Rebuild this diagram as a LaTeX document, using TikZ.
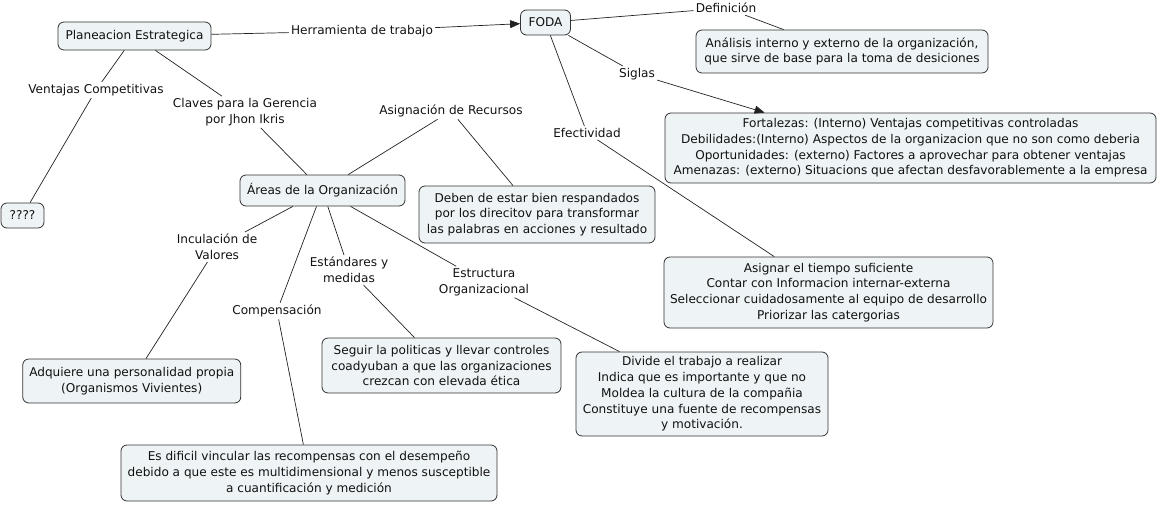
\documentclass[tikz,border=0pt]{standalone}
\usepackage{fontspec}
\setmainfont{DejaVu Sans}
\usetikzlibrary{arrows.meta,calc}
\definecolor{boxfill}{HTML}{EEF3F5}
\definecolor{boxline}{HTML}{333333}
\definecolor{connclr}{HTML}{222222}
\definecolor{txt}{HTML}{111111}
\begin{document}
\begin{tikzpicture}[x=1pt,y=-1pt,
  font=\fontsize{12.1}{15.7}\selectfont,
  every node/.style={text=txt},
  cbox/.style={draw=boxline, fill=boxfill, rounded corners=6pt, align=center, inner sep=0pt, line width=0.8pt},
  lbl/.style={align=center, inner sep=2pt},
  conn/.style={draw=connclr, line width=0.7pt},
  arr/.style={conn, -{Triangle[length=10pt,width=8pt]}}]
\useasboundingbox (0,0) rectangle (1159,504);
% boxes
\node[cbox, minimum width=153pt, minimum height=28pt] (plan) at (134.5,36) {Planeacion Estrategica};
\node[cbox, minimum width=50pt, minimum height=25pt] (foda) at (545.5,22.5) {FODA};
\node[cbox, minimum width=292pt, minimum height=43pt] (anal) at (842,51.5) {Análisis interno y externo de la organización,\\que sirve de base para la toma de desiciones};
\node[cbox, minimum width=491pt, minimum height=70pt] (fort) at (910.5,148) {Fortalezas: (Interno) Ventajas competitivas controladas\\Debilidades:(Interno) Aspectos de la organizacion que no son como deberia\\Oportunidades: (externo) Factores a aprovechar para obtener ventajas\\Amenazas: (externo) Situacions que afectan desfavorablemente a la empresa};
\node[cbox, minimum width=329pt, minimum height=71pt] (asig) at (828.5,292.5) {Asignar el tiempo suficiente\\Contar con Informacion internar-externa\\Seleccionar cuidadosamente al equipo de desarrollo\\Priorizar las catergorias};
\node[cbox, minimum width=252pt, minimum height=84pt] (divi) at (702,394) {Divide el trabajo a realizar\\Indica que es importante y que no\\Moldea la cultura de la compañia\\Constituye una fuente de recompensas\\y motivación.};
\node[cbox, minimum width=43pt, minimum height=25pt] (ques) at (22.5,215.5) {????};
\node[cbox, minimum width=165pt, minimum height=31pt] (areas) at (322.5,190.5) {Áreas de la Organización};
\node[cbox, minimum width=236pt, minimum height=57pt] (deben) at (537,214.5) {Deben de estar bien respandados\\por los direcitov para transformar\\las palabras en acciones y resultado};
\node[cbox, minimum width=218pt, minimum height=44pt] (adq) at (131.75,381) {Adquiere una personalidad propia\\(Organismos Vivientes)};
\node[cbox, minimum width=239pt, minimum height=55pt] (seg) at (441.5,365.5) {Seguir la politicas y llevar controles\\coadyuban a que las organizaciones\\crezcan con elevada ética};
\node[cbox, minimum width=376pt, minimum height=56pt] (esd) at (309,473) {Es dificil vincular las recompensas con el desempeño\\debido a que este es multidimensional y menos susceptible\\a cuantificación y medición};
% labels
\node[lbl] (herr) at (362,31) {Herramienta de trabajo};
\node[lbl] (defi) at (726,8) {Definición};
\node[lbl] (sigl) at (637,74) {Siglas};
\node[lbl] (efec) at (587,133) {Efectividad};
\node[lbl] (vent) at (96,90) {Ventajas Competitivas};
\node[lbl] (clav) at (245,112) {Claves para la Gerencia\\por Jhon Ikris};
\node[lbl] (asre) at (451,111) {Asignación de Recursos};
\node[lbl] (incu) at (217,247) {Inculación de\\Valores};
\node[lbl] (esta) at (349,270) {Estándares y\\medidas};
\node[lbl] (estr) at (484,282) {Estructura\\Organizacional};
\node[lbl] (comp) at (277,311) {Compensación};
% connectors
\draw[conn] (plan) -- (herr);
\draw[arr] (herr) -- (foda);
\draw[conn] (foda) -- (defi);
\draw[conn] (defi) -- (anal);
\draw[conn] (foda) -- (sigl);
\draw[arr] (sigl) -- ($(fort.north west)+(100,0)$);
\draw[conn] (foda) -- (efec);
\draw[conn] (efec) -- (asig);
\draw[conn] (plan) -- (vent);
\draw[conn] (vent) -- (ques);
\draw[conn] (plan) -- (clav);
\draw[conn] (clav) -- (areas);
\draw[conn] (areas) -- (asre);
\draw[conn] (asre) -- (deben);
\draw[conn] (areas) -- (incu);
\draw[conn] (incu) -- (adq);
\draw[conn] (areas) -- (comp);
\draw[conn] (comp) -- (esd);
\draw[conn] (areas) -- (esta);
\draw[conn] (esta) -- (seg);
\draw[conn] (areas) -- (estr);
\draw[conn] (estr) -- (divi);
\end{tikzpicture}
\end{document}
